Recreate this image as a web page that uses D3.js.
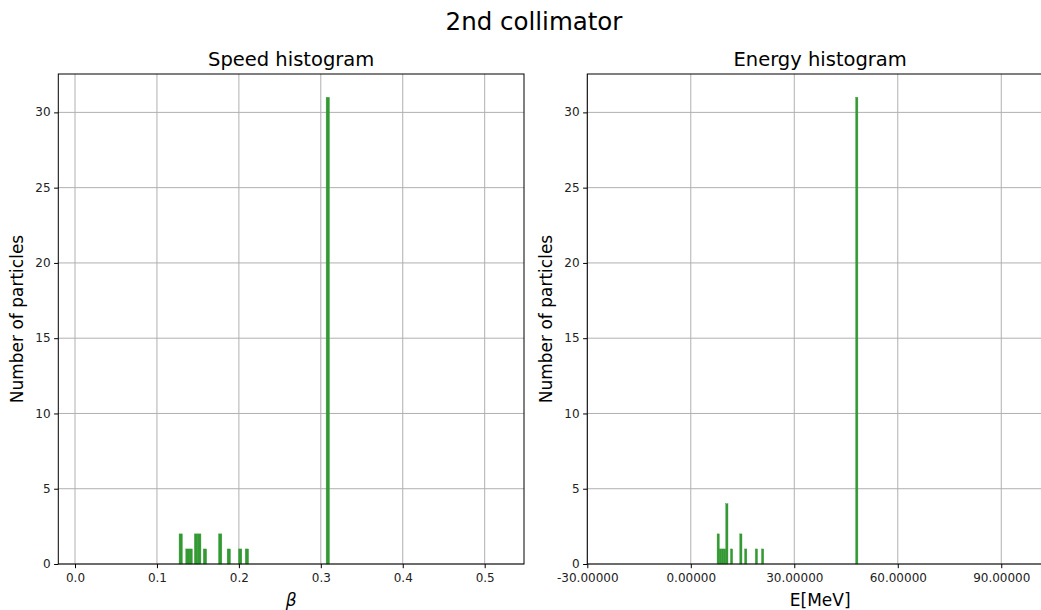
<!DOCTYPE html>
<html>
<head>
<meta charset="utf-8">
<script src="https://cdn.jsdelivr.net/npm/d3@7"></script>
<style>
  html, body { margin: 0; padding: 0; background: #fff; overflow: hidden; }
  svg { display: block; font-family: "DejaVu Sans", sans-serif; }
</style>
</head>
<body>
<svg id="chart" width="1041" height="610"></svg>
<script>
// ---- data ----
const figTitle = "2nd collimator";

const speedTitle = "Speed histogram";
const speedXLabel = "β";
const speedBinStart = [0.1270, 0.1352, 0.1392, 0.1457, 0.1497, 0.1566, 0.1752, 0.1857, 0.1996, 0.2078, 0.3065];
const speedCounts   = [2, 1, 1, 2, 2, 1, 2, 1, 1, 1, 31];
const speedBinWidth = 0.0040;
const speedXDomain = [-0.0204, 0.548];
const speedXTicks = [0.0, 0.1, 0.2, 0.3, 0.4, 0.5];

const energyTitle = "Energy histogram";
const energyXLabel = "E[MeV]";
const energyBinStart = [7.62, 8.24, 8.86, 9.48, 10.14, 11.5, 14.2, 15.6, 18.7, 20.5, 47.8];
const energyCounts   = [2, 1, 1, 1, 4, 1, 2, 1, 1, 1, 31];
const energyBinWidth = 0.64;
const energyXDomain = [-30, 105];
const energyXTicks = [-30, 0, 30, 60, 90];

const yLabel = "Number of particles";
const yDomain = [0, 32.55];
const yTicks = [0, 5, 10, 15, 20, 25, 30];

// ---- layout ----
const svg = d3.select("#chart");
const plotTop = 74, plotBottom = 564;
const panelW = 465.7;
const hyphen = f => (d => f(d).replace("\u2212", "-"));
const panels = [
  { left: 58.3, title: speedTitle, xlabel: speedXLabel, starts: speedBinStart, counts: speedCounts,
    bw: speedBinWidth, domain: speedXDomain, ticks: speedXTicks, fmt: hyphen(d3.format(".1f")), italic: true },
  { left: 587.3, title: energyTitle, xlabel: energyXLabel, starts: energyBinStart, counts: energyCounts,
    bw: energyBinWidth, domain: energyXDomain, ticks: energyXTicks, fmt: hyphen(d3.format(".5f")), italic: false }
];

const barColor = "rgb(51,153,51)";
const gridColor = "#b0b0b0";
const textColor = "#222";

svg.append("text")
  .attr("x", 534).attr("y", 30)
  .attr("text-anchor", "middle")
  .attr("font-size", 24.5)
  .attr("fill", "#000")
  .text(figTitle);

const y = d3.scaleLinear().domain(yDomain).range([plotBottom, plotTop]);

panels.forEach(p => {
  const x = d3.scaleLinear().domain(p.domain).range([p.left, p.left + panelW]);
  const g = svg.append("g");

  // grid
  g.append("g").selectAll("line").data(p.ticks).join("line")
    .attr("x1", d => x(d)).attr("x2", d => x(d))
    .attr("y1", plotTop).attr("y2", plotBottom)
    .attr("stroke", gridColor).attr("stroke-width", 1);
  g.append("g").selectAll("line").data(yTicks).join("line")
    .attr("x1", p.left).attr("x2", p.left + panelW)
    .attr("y1", d => y(d)).attr("y2", d => y(d))
    .attr("stroke", gridColor).attr("stroke-width", 1);

  // bars
  const data = p.starts.map((s, i) => ({ s, c: p.counts[i] }));
  g.append("g").selectAll("rect").data(data).join("rect")
    .attr("x", d => x(d.s))
    .attr("width", d => x(d.s + p.bw) - x(d.s))
    .attr("y", d => y(d.c))
    .attr("height", d => y(0) - y(d.c))
    .attr("fill", barColor)
    .attr("stroke", barColor).attr("stroke-width", 0.4);

  // axes
  const xAxis = d3.axisBottom(x).tickValues(p.ticks).tickFormat(p.fmt).tickSize(4.2).tickPadding(4.8);
  const yAxis = d3.axisLeft(y).tickValues(yTicks).tickFormat(d3.format("d")).tickSize(4.2).tickPadding(3.5);
  const gx = g.append("g").attr("transform", `translate(0,${plotBottom})`).call(xAxis);
  const gy = g.append("g").attr("transform", `translate(${p.left},0)`).call(yAxis);
  [gx, gy].forEach(a => {
    a.select(".domain").remove();
    a.selectAll("line").attr("stroke", "#000").attr("stroke-width", 1);
    a.selectAll("text").attr("font-size", 12).attr("fill", textColor)
      .attr("font-family", "DejaVu Sans, sans-serif");
  });
  gy.selectAll("text").attr("dy", "0.3em");

  // spines
  g.append("rect")
    .attr("x", p.left).attr("y", plotTop)
    .attr("width", panelW).attr("height", plotBottom - plotTop)
    .attr("fill", "none").attr("stroke", "#000").attr("stroke-width", 1);

  const cx = p.left + panelW / 2;
  svg.append("text")
    .attr("x", cx).attr("y", 66)
    .attr("text-anchor", "middle")
    .attr("font-size", 19.5).attr("fill", "#000")
    .text(p.title);

  svg.append("text")
    .attr("x", cx).attr("y", 606)
    .attr("text-anchor", "middle")
    .attr("font-size", 17).attr("fill", "#000")
    .attr("font-style", p.italic ? "italic" : "normal")
    .text(p.xlabel);

  svg.append("text")
    .attr("transform", `translate(${p.left - 35},${(plotTop + plotBottom) / 2}) rotate(-90)`)
    .attr("text-anchor", "middle")
    .attr("font-size", 17).attr("fill", "#000")
    .text(yLabel);
});
</script>
</body>
</html>
